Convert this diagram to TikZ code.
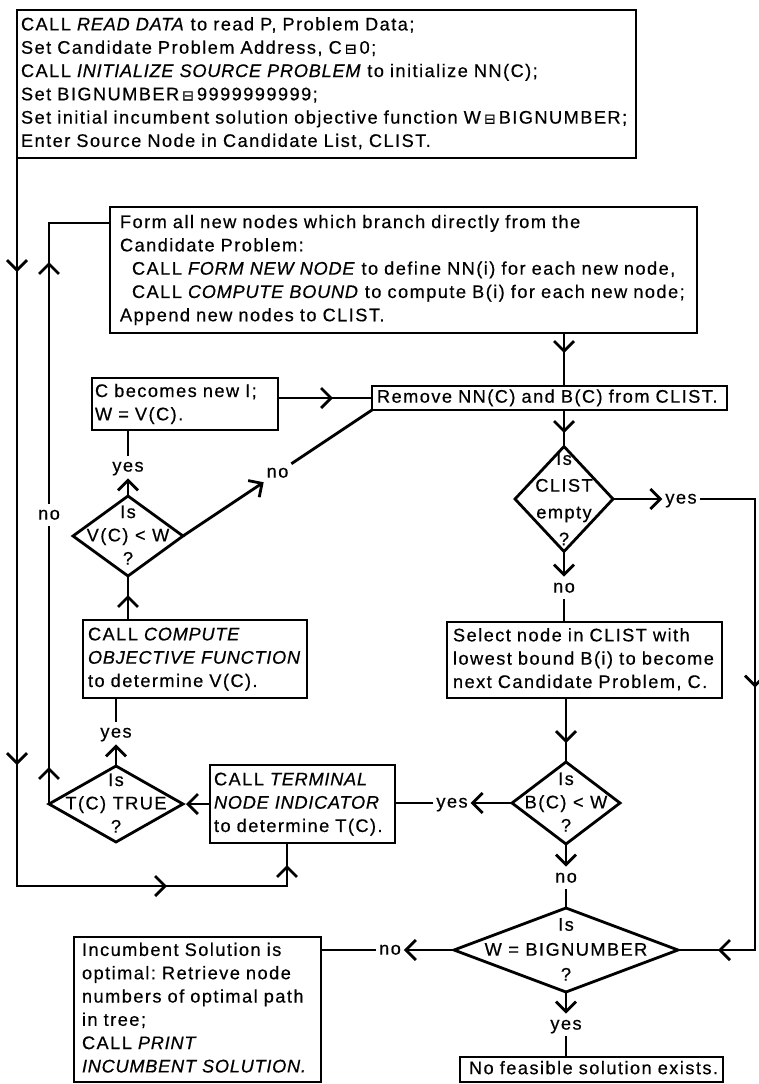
\documentclass[tikz,border=0pt]{standalone}
\usepackage{fontspec}
\setmainfont{Liberation Sans}[LetterSpace=8, FakeBold=0.5, ItalicFeatures={LetterSpace=4}]
\newfontfamily\symf{DejaVu Sans}[FakeBold=0.5]
\usetikzlibrary{shapes.geometric,arrows.meta,decorations.markings,calc}
\frenchspacing
\newcommand\eqb{{\symf\fontsize{14}{14}\selectfont ⊟}}
\newcommand\dtx[2][1]{\raisebox{-5pt}[0pt][0pt]{\makebox[0pt]{\renewcommand\arraystretch{#1}\begin{tabular}{@{}c@{}}#2\end{tabular}}}}
\newcommand\fbx[7]{%
  \pgfmathsetmacro\bw{#4-#2}%
  \pgfmathsetmacro\bh{#5-#3}%
  \pgfmathsetmacro\tw{#4-#2-2*#6}%
  \node[bx, inner xsep=#6pt, minimum width=\bw pt, minimum height=\bh pt, text width=\tw pt] (#1) at (#2,#3) {\strut#7\strut};}
\tikzset{
  chev/.tip={Straight Barb[length=10pt,width=20pt]},
  bx/.style={draw, anchor=north west, align=left, inner ysep=0pt, outer sep=0pt},
  dia/.style={draw, diamond, inner sep=0pt, outer sep=0pt},
  lbl/.style={inner xsep=3pt, inner ysep=3pt, text height=13pt, text depth=3.8pt, outer sep=0pt},
  midmarks/.style={postaction={decorate}, decoration={markings, #1}},
  midar/.style={postaction={decorate}, decoration={markings, mark=at position #1 with {\arrow{chev}}}},
}
\begin{document}
\begin{tikzpicture}[x=1pt,y=-1pt,line width=2.8pt,
  every node/.append style={font=\fontsize{18.2}{23.3}\selectfont}]
\useasboundingbox (0,0) rectangle (758,1084);

% boxes
\fbx{top}{17}{10}{636}{158}{4}{\mbox{CALL \textit{READ DATA} to read P, Problem Data;}\\
\mbox{Set Candidate Problem Address, C\,\eqb\,0;}\\
\mbox{CALL \textit{INITIALIZE SOURCE PROBLEM} to initialize NN(C);}\\
\mbox{Set BIGNUMBER\,\eqb\,9999999999;}\\
\mbox{Set initial incumbent solution objective function W\,\eqb\,BIGNUMBER;}\\
\mbox{Enter Source Node in Candidate List, CLIST.}}

\fbx{form}{110}{207}{697}{333}{10}{\mbox{Form all new nodes which branch directly from the}\\
\mbox{Candidate Problem:}\\
\mbox{\hspace*{12pt}CALL \textit{FORM NEW NODE} to define NN(i) for each new node,}\\
\mbox{\hspace*{12pt}CALL \textit{COMPUTE BOUND} to compute B(i) for each new node;}\\
\mbox{Append new nodes to CLIST.}}

\fbx{cbox}{92}{378}{278}{430}{3}{\mbox{C becomes new I;}\\\mbox{W = V(C).}}
\fbx{rem}{372}{386}{727}{410}{5}{\mbox{Remove NN(C) and B(C) from CLIST.}}
\fbx{comp}{83}{620}{307}{698}{5}{\mbox{CALL \textit{COMPUTE}}\\\mbox{\textit{OBJECTIVE FUNCTION}}\\\mbox{to determine V(C).}}
\fbx{sel}{447}{622}{722}{698}{6}{\mbox{Select node in CLIST with}\\\mbox{lowest bound B(i) to become}\\\mbox{next Candidate Problem, C.}}
\fbx{term}{210}{765}{395}{843}{4}{\mbox{CALL \textit{TERMINAL}}\\\mbox{\textit{NODE INDICATOR}}\\\mbox{to determine T(C).}}
\fbx{inc}{74}{937}{321}{1082}{8}{\mbox{Incumbent Solution is}\\\mbox{optimal: Retrieve node}\\\mbox{numbers of optimal path}\\\mbox{in tree;}\\\mbox{CALL \textit{PRINT}}\\\mbox{\textit{INCUMBENT SOLUTION.}}}
\fbx{nof}{460}{1057}{723}{1082}{9}{\mbox{No feasible solution exists.}}

% diamonds
\node[dia, minimum width=110pt, minimum height=80pt] (vc) at (128,536) {\dtx{Is\\V(C) < W\\?}};
\node[dia, minimum width=134pt, minimum height=76pt] (tc) at (116,804) {\dtx{Is\\T(C) TRUE\\?}};
\node[dia, minimum width=98pt, minimum height=105pt] (cl) at (564,499) {\dtx[1.15]{Is\\CLIST\\empty\\?}};
\node[dia, minimum width=108pt, minimum height=82pt] (bc) at (566,803) {\dtx{Is\\B(C) < W\\?}};
\node[dia, minimum width=224pt, minimum height=84pt] (wd) at (566,950) {\dtx[1.07]{Is\\W = BIGNUMBER\\?}};

% labels
\node[lbl] (yes1) at (128,467) {yes};
\node[lbl] (no2) at ($(vc.east)!0.5!(rem.south west)$) {no};
\node[lbl] (no1) at (49,515) {no};
\node[lbl] (yes2) at (116,733) {yes};
\node[lbl] (yes3) at (452,803) {yes};
\node[lbl] (no3) at (564,588) {no};
\node[lbl] (no4) at (566,878) {no};
\node[lbl] (yes4) at (566,1025) {yes};
\node[lbl] (no5) at (390,950) {no};
\node[lbl] (yes5) at (681,499) {yes};

% helper coordinates
\coordinate (botrow) at (0,886);
\coordinate (formin) at ($(form.north west)+(0,16)$);
\coordinate (rline) at (755,0);
\coordinate (tin) at ($(term.south west)+(77,0)$);

% outer loop
\draw[midmarks={mark=at position 114pt with {\arrow{chev}}, mark=at position 607pt with {\arrow{chev}}, mark=at position 878pt with {\arrow{chev}}, mark=at position 1019pt with {\arrow{chev}}}]
  (top.south west) -- (top.south west |- botrow) -| (tin);

% T(C) no loop
\draw[midar=37pt] (tc.west) -- (no1);
\draw[midar=-100pt] (no1) -- (no1 |- formin) -- (formin);

% V(C) < W
\draw[-chev] (vc.north) -- (yes1);
\draw (yes1) -- (yes1 |- cbox.south);
\draw[midar=55pt] (cbox.east |- rem.west) -- (rem.west);
\draw[-chev] (vc.east) -- (no2);
\draw (no2) -- (rem.south west);
\draw[midar=25pt] (comp.north -| vc.south) -- (vc.south);

% T(C)
\draw (yes2) -- (yes2 |- comp.south);
\draw[-chev] (tc.north) -- (yes2);
\draw[-chev, shorten >=3pt] (term.west) -- (tc.east);

% B(C)
\draw[-chev] (bc.west) -- (yes3);
\draw (yes3) -- (yes3 -| term.east);

% spine
\draw[midar=20pt] (form.south -| cl.north) -- (rem.north -| cl.north);
\draw[midar=23pt] (rem.south -| cl.north) -- (cl.north);
\draw[-chev] (cl.south) -- (no3);
\draw (no3) -- (no3 |- sel.north);
\draw[midar=45pt] (sel.south -| bc.north) -- (bc.north);
\draw[-chev] (bc.south) -- (no4);
\draw (no4) -- (wd.north);
\draw[-chev] (wd.south) -- (yes4);
\draw (yes4) -- (yes4 |- nof.north);
\draw[-chev] (wd.west) -- (no5);
\draw (no5) -- (no5 -| inc.east);

% CLIST empty yes
\draw[-chev] (cl.east) -- (yes5);
\draw[midmarks={mark=at position 244pt with {\arrow{chev}}, mark=at position -40pt with {\arrow{chev}}}]
  (yes5) -| (rline |- wd.east) -- (wd.east);
\end{tikzpicture}
\end{document}
